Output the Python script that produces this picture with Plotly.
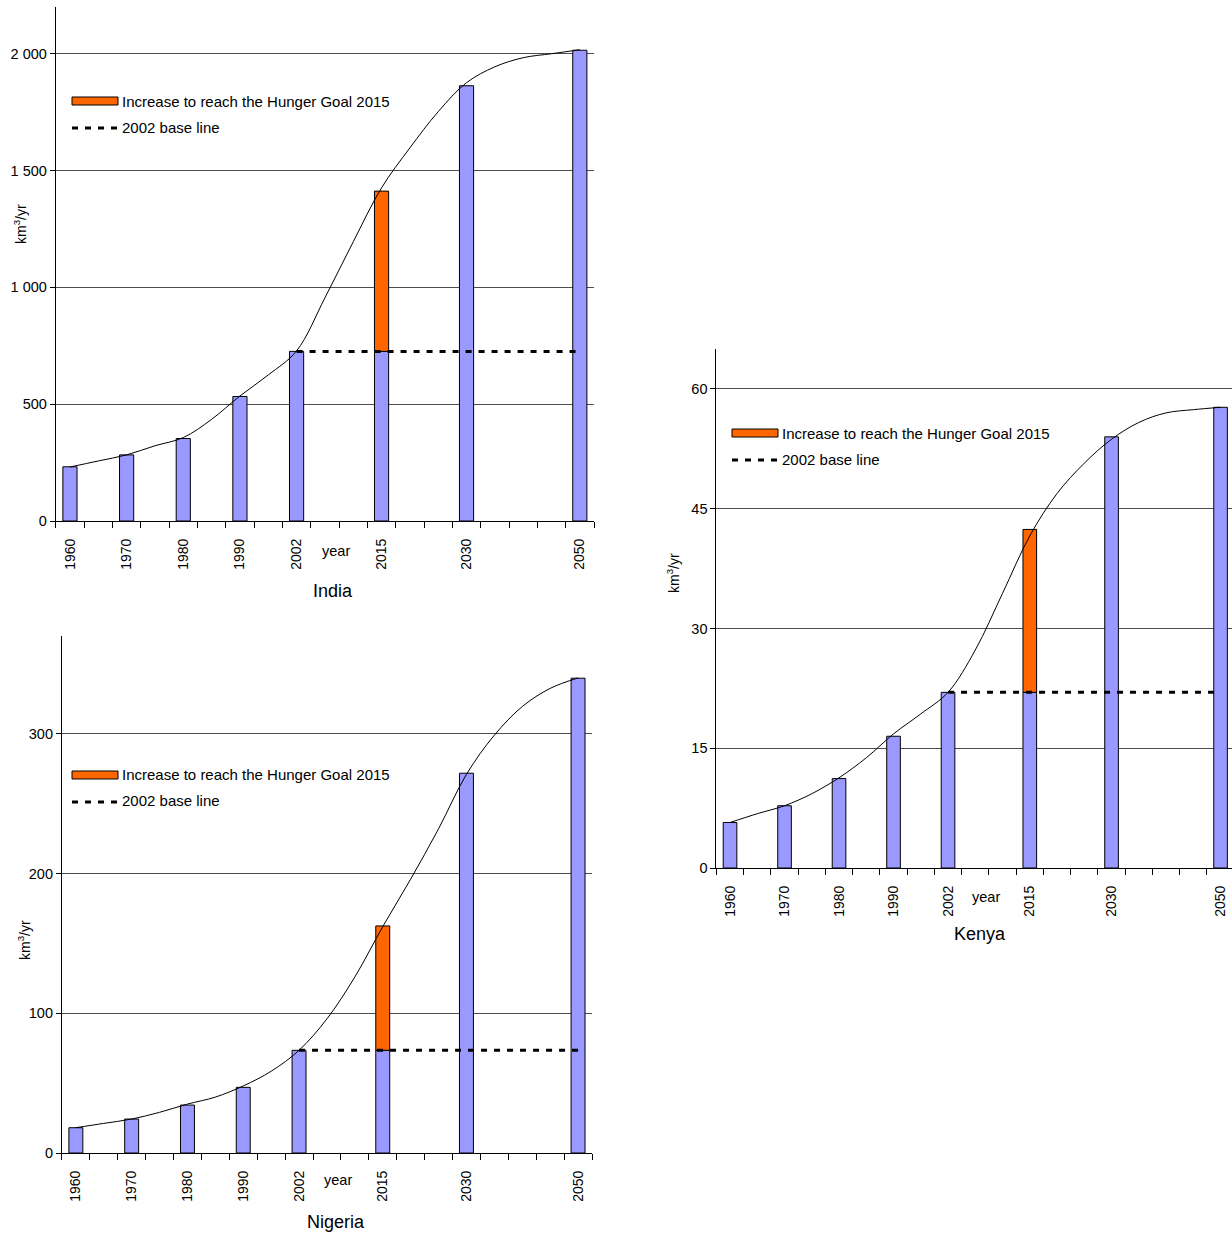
import plotly.graph_objects as go

# ---------------- data ----------------
AXIS_SLOTS = ["1960", "", "1970", "", "1980", "", "1990", "", "2002", "", "",
              "2015", "", "", "2030", "", "", "", "2050"]
YEARS = ["1960", "1970", "1980", "1990", "2002", "2015", "2030", "2050"]
GOAL_YEAR = "2015"
BASE_YEAR = "2002"

INDIA_WITHDRAWAL = [232, 283, 353, 533, 726, 726, 1863, 2015]
INDIA_INCREASE_2015 = 686
INDIA_TREND = [231, 257, 283, 322, 357, 435, 535, 625, 728, 955, 1195, 1426,
               1597, 1752, 1876, 1944, 1983, 2000, 2017]
INDIA_YTICKS = [0, 500, 1000, 1500, 2000]
INDIA_YTICKTEXT = ["0", "500", "1 000", "1 500", "2 000"]

NIGERIA_WITHDRAWAL = [18.1, 24.3, 34.3, 47.0, 73.5, 73.5, 271.8, 339.8]
NIGERIA_INCREASE_2015 = 89
NIGERIA_TREND = [18.1, 21.2, 24.3, 29.1, 35, 40, 48, 58.5, 73.5, 96, 126, 162,
                 196, 232, 271, 299, 319.5, 332.5, 340]
NIGERIA_YTICKS = [0, 100, 200, 300]
NIGERIA_YTICKTEXT = ["0", "100", "200", "300"]

KENYA_WITHDRAWAL = [5.7, 7.8, 11.2, 16.5, 22.0, 22.0, 54.0, 57.7]
KENYA_INCREASE_2015 = 20.4
KENYA_TREND = [5.7, 6.8, 7.8, 9.3, 11.3, 13.8, 16.8, 19.3, 22.0, 27.3, 34.4, 41.6,
               46.9, 50.7, 53.7, 55.8, 57.0, 57.4, 57.7]
KENYA_YTICKS = [0, 15, 30, 45, 60]
KENYA_YTICKTEXT = ["0", "15", "30", "45", "60"]

LEGEND_INCREASE = "Increase to reach the Hunger Goal 2015"
LEGEND_BASE = "2002 base line"
UNIT = "km<sup>3</sup>/yr"
XLABEL = "year"

# ---------------- styling / layout ----------------
W, H = 1232, 1234
H_MAP = 1226  # vertical pixel scale observed in the photographed page
FONT = "Liberation Sans, Arial, sans-serif"
BAR_COLOR = "#9999FF"
INC_COLOR = "#FF6600"


def px(x):
    return x / W


def py(y):
    return 1 - y / H_MAP


charts = [
    dict(name="India", vals=INDIA_WITHDRAWAL, inc=INDIA_INCREASE_2015, trend=INDIA_TREND,
         yt=INDIA_YTICKS, ytt=INDIA_YTICKTEXT, yrange=[0, 2200], xrange=[-0.5, 18.5],
         xdom=(55.8, 594), ydom=(7, 521), title=(333, 591), year=(549,), ytitle=(20, 224),
         leg=(72, 101, 128)),
    dict(name="Nigeria", vals=NIGERIA_WITHDRAWAL, inc=NIGERIA_INCREASE_2015, trend=NIGERIA_TREND,
         yt=NIGERIA_YTICKS, ytt=NIGERIA_YTICKTEXT, yrange=[0, 370], xrange=[-0.5, 18.5],
         xdom=(61.9, 592), ydom=(636, 1153), title=(336, 1222), year=(1178,), ytitle=(24, 940),
         leg=(72, 775, 802)),
    dict(name="Kenya", vals=KENYA_WITHDRAWAL, inc=KENYA_INCREASE_2015, trend=KENYA_TREND,
         yt=KENYA_YTICKS, ytt=KENYA_YTICKTEXT, yrange=[0, 65], xrange=[-0.5, 18.42],
         xdom=(716.4, 1232), ydom=(349, 868), title=(980, 934), year=(895,), ytitle=(673, 573),
         leg=(732, 433, 460)),
]

fig = go.Figure()
xpos = [AXIS_SLOTS.index(y) for y in YEARS]
trend_x = list(range(len(AXIS_SLOTS)))
annotations = []
shapes = []

for i, c in enumerate(charts, start=1):
    xa = "x" if i == 1 else f"x{i}"
    ya = "y" if i == 1 else f"y{i}"
    base2002 = c["vals"][YEARS.index(BASE_YEAR)]

    fig.add_trace(go.Bar(x=xpos, y=c["vals"], xaxis=xa, yaxis=ya, width=0.5,
                         marker=dict(color=BAR_COLOR, line=dict(color="#000000", width=1)),
                         showlegend=False, hoverinfo="skip"))
    fig.add_trace(go.Bar(x=[AXIS_SLOTS.index(GOAL_YEAR)], y=[c["inc"]],
                         base=[c["vals"][YEARS.index(GOAL_YEAR)]], xaxis=xa, yaxis=ya, width=0.5,
                         marker=dict(color=INC_COLOR, line=dict(color="#000000", width=1)),
                         showlegend=False, hoverinfo="skip"))
    fig.add_trace(go.Scatter(x=[AXIS_SLOTS.index(BASE_YEAR), AXIS_SLOTS.index(YEARS[-1])],
                             y=[base2002, base2002], xaxis=xa, yaxis=ya, mode="lines",
                             line=dict(color="black", width=3, dash="6px,7px"),
                             showlegend=False, hoverinfo="skip"))
    fig.add_trace(go.Scatter(x=trend_x, y=c["trend"], xaxis=xa, yaxis=ya, mode="lines",
                             line=dict(color="black", width=1, shape="spline", smoothing=1.0),
                             showlegend=False, hoverinfo="skip"))

    xd, yd = c["xdom"], c["ydom"]
    fig.update_layout(**{
        ("xaxis" if i == 1 else f"xaxis{i}"): dict(
            domain=[px(xd[0]), px(xd[1])], range=c["xrange"], anchor=ya,
            tickmode="array", tickvals=xpos, ticktext=YEARS, tickangle=-90,
            ticks="outside", ticklen=11, tickcolor="rgba(0,0,0,0)",
            showline=True, linecolor="black", linewidth=1, showgrid=False, zeroline=False,
            tickfont=dict(family=FONT, size=14, color="black"),
            minor=dict(tickmode="linear", tick0=-0.5, dtick=1, ticks="outside",
                       ticklen=6, tickcolor="black", tickwidth=1, showgrid=False),
            fixedrange=True),
        ("yaxis" if i == 1 else f"yaxis{i}"): dict(
            domain=[py(yd[1]), py(yd[0])], range=c["yrange"], anchor=xa,
            tickmode="array", tickvals=c["yt"], ticktext=c["ytt"],
            ticks="outside", ticklen=5, tickcolor="black",
            showline=True, linecolor="black", linewidth=1,
            showgrid=True, gridcolor="#4d4d4d", gridwidth=1, zeroline=False,
            tickfont=dict(family=FONT, size=14.5, color="black"),
            fixedrange=True),
    })

    # titles and labels
    annotations.append(dict(text=c["name"], x=px(c["title"][0]), y=py(c["title"][1]),
                            xref="paper", yref="paper", showarrow=False,
                            xanchor="center", yanchor="middle",
                            font=dict(family=FONT, size=18, color="black")))
    annotations.append(dict(text=XLABEL, x=9.4, y=py(c["year"][0] + 2),
                            xref=xa, yref="paper", showarrow=False,
                            xanchor="center", yanchor="middle",
                            font=dict(family=FONT, size=14.5, color="black")))
    annotations.append(dict(text=UNIT, x=px(c["ytitle"][0]), y=py(c["ytitle"][1]),
                            xref="paper", yref="paper", showarrow=False, textangle=-90,
                            xanchor="center", yanchor="middle",
                            font=dict(family=FONT, size=14, color="black")))

    # hand-drawn legend
    lx, ly1, ly2 = c["leg"]
    shapes.append(dict(type="rect", xref="paper", yref="paper",
                       x0=px(lx), x1=px(lx + 46), y0=py(ly1 + 4), y1=py(ly1 - 4),
                       fillcolor=INC_COLOR, line=dict(color="black", width=1)))
    shapes.append(dict(type="line", xref="paper", yref="paper",
                       x0=px(lx), x1=px(lx + 48), y0=py(ly2), y1=py(ly2),
                       line=dict(color="black", width=3, dash="6px,7px")))
    annotations.append(dict(text=LEGEND_INCREASE, x=px(lx + 48), y=py(ly1),
                            xref="paper", yref="paper", showarrow=False,
                            xanchor="left", yanchor="middle",
                            font=dict(family=FONT, size=15, color="black")))
    annotations.append(dict(text=LEGEND_BASE, x=px(lx + 48), y=py(ly2 - 1),
                            xref="paper", yref="paper", showarrow=False,
                            xanchor="left", yanchor="middle",
                            font=dict(family=FONT, size=15, color="black")))

fig.update_layout(width=W, height=H, margin=dict(l=0, r=0, t=0, b=0),
                  paper_bgcolor="white", plot_bgcolor="white",
                  barmode="overlay", showlegend=False,
                  annotations=annotations, shapes=shapes,
                  font=dict(family=FONT, color="black"))

fig.write_html("out.html", config={"displayModeBar": False},
               post_script="document.body.style.margin='0';document.body.style.overflow='hidden';")
